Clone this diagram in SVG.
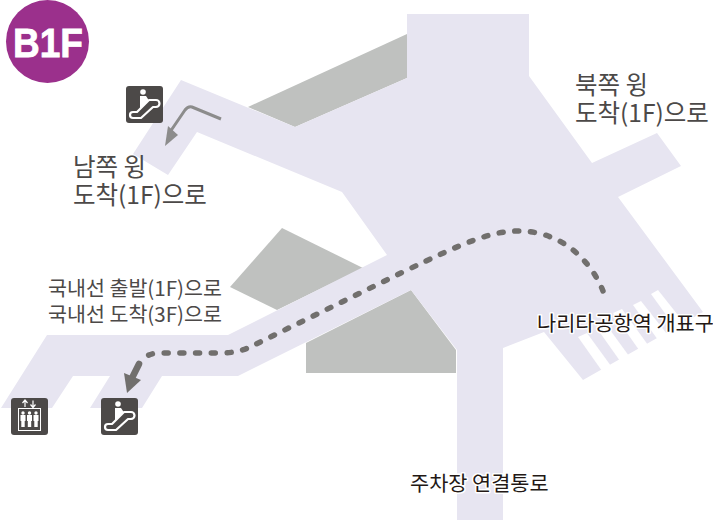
<svg xmlns="http://www.w3.org/2000/svg" width="713" height="520" viewBox="0 0 713 520">
<style>
.k{font-family:"Noto Sans CJK KR","Noto Sans",sans-serif;fill:#4c4948}
.l{font-size:24.500px}
.m{font-size:20.600px}
.h{font-size:20.800px;fill:#231815;stroke:#fff;stroke-width:3px;paint-order:stroke;stroke-linejoin:round}
.g{fill:#bfc1bf}
.ic{fill:#4c4948}
.w{fill:none;stroke:#fff;stroke-linecap:round;stroke-linejoin:round}
</style>
<defs>
<g id="esc">
<rect width="37" height="37" rx="3" class="ic"/>
<circle cx="17" cy="6" r="2.800" fill="#fff"/>
<path d="M14 10h6l2 3v2l-8 8z" fill="#fff"/>
<path d="M7 26H11L23 14H30a3.500 3.500 0 0 1 0 7H27L15 32H7a3 3 0 0 1 0-6z" class="w" stroke-width="2.200"/>
</g>
</defs>
<g id="floor">
<polygon class="g" points="248,107 407,34 407,78 295,127"/>
<polygon class="g" points="282,228 230,287 277,310 363,268"/>
<polygon class="g" points="306,343 306,373 456,373 456,350 411,290"/>
<polygon fill="#e7e5f1" points="181,80 295,127 407,78 407,14 529,14 529,76 592,163 657,133 681,166 618,197 703,312 583,380 544,332 503,348 503,520 457,520 457,350 411,290 238,376 162,376 142,408 90,408 110,376 73,376 52,408 1,408 47,335 228,335 387,255 342,192 197,132 168,175 133,154"/>
<g fill="#fff">
<polygon points="578,337 587,333 611,366 602,371"/>
<polygon points="596,327 605,323 629,356 620,361"/>
<polygon points="613,313 622,309 648,345 639,350"/>
<polygon points="633,305 641,301 667,334 658,340"/>
<polygon points="651,294 658,290 685,324 677,330"/>
</g>
</g>
<g id="connectors">
<path d="M221 119L192 107Q188 106 185 110L170 132" fill="none" stroke="#8c8c8c" stroke-width="3"/>
<polygon points="165,146 168,126 178,135" fill="#8c8c8c"/>
<path d="M603 291C595 270 570 233 522 231C490 230 460 245 407 270L250 347Q240 352 225 353L160 353Q150 353 144 358" fill="none" stroke="#716f6d" stroke-width="5.500" stroke-linecap="round" stroke-dasharray="4 11.700"/>
<path d="M139 364L132 378" stroke="#716f6d" stroke-width="6.500" stroke-linecap="round" fill="none"/>
<polygon points="127,393 124,373 141,380" fill="#716f6d"/>
</g>
<g id="badge">
<circle cx="47.500" cy="41.500" r="41.500" fill="#9b308c"/>
<text x="13" y="57" textLength="70" lengthAdjust="spacingAndGlyphs" font-family="'Liberation Sans',sans-serif" font-weight="700" font-size="41" fill="#fff" stroke="#fff" stroke-width="0.800">B1F</text>
</g>
<g id="escalator-north"><use href="#esc" x="126" y="86"/></g>
<g id="escalator-south"><use href="#esc" x="101" y="398"/></g>
<g id="elevator">
<rect x="11" y="398" width="37" height="37" rx="3" class="ic"/>
<rect x="18.500" y="408.500" width="22" height="22" fill="none" stroke="#fff"/>
<path d="M25 407v-6M22.500 403l2.500-3 2.500 3M33 400.500v6M30.500 404.500l2.500 3 2.500-3" fill="none" stroke="#fff" stroke-width="1.200"/>
<g fill="#fff"><circle cx="23" cy="413" r="1.700"/><circle cx="29.500" cy="413" r="1.700"/><circle cx="36" cy="413" r="1.700"/><path d="M20.500 415h5v6h-.8v6h-3.400v-6h-.8z"/><path d="M27 415h5v6h-.8v6h-3.400v-6h-.8z"/><path d="M33.500 415h5v6h-.8v6h-3.400v-6h-.8z"/></g>
</g>
<g id="labels">
<text class="k l" x="73" y="176">남쪽 윙</text>
<text class="k l" x="73" y="204">도착(1F)으로</text>
<text class="k l" x="575" y="94">북쪽 윙</text>
<text class="k l" x="575" y="122">도착(1F)으로</text>
<text class="k m" x="48" y="296">국내선 출발(1F)으로</text>
<text class="k m" x="48" y="322">국내선 도착(3F)으로</text>
<text class="k h" x="537" y="331">나리타공항역 개표구</text>
<text class="k h" x="410" y="491">주차장 연결통로</text>
</g>
</svg>
